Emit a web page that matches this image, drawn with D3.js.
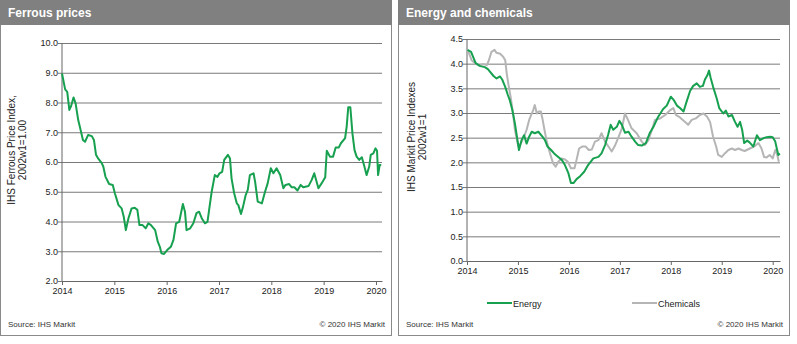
<!DOCTYPE html>
<html lang="en">
<head>
<meta charset="UTF-8">
<title>Ferrous prices / Energy and chemicals</title>
<script src="https://d3js.org/d3.v7.min.js"></script>
<style>
    body { margin: 0; background: #fff; }
    svg text { font-family: "Liberation Sans", Arial, sans-serif; }
    .grid line { stroke: #7a7a7a; stroke-width: 1; }
    .tick text { font-size: 9px; fill: #222; }
</style>
</head>
<body>
<svg id="chart"></svg>
<script>
    // Ferrous price index (decimal years)
    const ferrousYears = [
        2014.00, 2014.06, 2014.10, 2014.14, 2014.17, 2014.22, 2014.26, 2014.31, 2014.34, 2014.40, 2014.44,
        2014.50, 2014.57, 2014.61, 2014.65, 2014.69, 2014.76, 2014.79, 2014.83, 2014.90, 2014.97,
        2015.01, 2015.08, 2015.14, 2015.18, 2015.22, 2015.27, 2015.33, 2015.39, 2015.44, 2015.48,
        2015.54, 2015.60, 2015.65, 2015.70, 2015.78, 2015.83, 2015.87, 2015.90, 2015.95,
        2016.01, 2016.08, 2016.13, 2016.18, 2016.24, 2016.31, 2016.35, 2016.38, 2016.45, 2016.51,
        2016.57, 2016.62, 2016.67, 2016.73, 2016.78, 2016.82, 2016.86, 2016.92, 2016.97,
        2017.01, 2017.06, 2017.10, 2017.17, 2017.21, 2017.24, 2017.29, 2017.34, 2017.37, 2017.42, 2017.46,
        2017.51, 2017.55, 2017.59, 2017.66, 2017.69, 2017.74, 2017.82, 2017.88, 2017.93, 2017.99,
        2018.04, 2018.10, 2018.17, 2018.23, 2018.27, 2018.34, 2018.39, 2018.44, 2018.50, 2018.56,
        2018.61, 2018.71, 2018.77, 2018.82, 2018.90, 2018.96,
        2019.03, 2019.06, 2019.12, 2019.18, 2019.23, 2019.29, 2019.33, 2019.41, 2019.44, 2019.47, 2019.51,
        2019.55, 2019.59, 2019.63, 2019.68, 2019.73, 2019.78, 2019.82, 2019.87, 2019.90, 2019.95, 2019.99,
        2020.02, 2020.04, 2020.07, 2020.10
    ];
    const ferrousValues = [
        8.98, 8.44, 8.36, 7.75, 7.86, 8.17, 7.97, 7.41, 7.19, 6.74, 6.68,
        6.91, 6.87, 6.74, 6.24, 6.12, 5.96, 5.84, 5.51, 5.26, 5.23,
        4.95, 4.55, 4.44, 4.16, 3.71, 4.11, 4.44, 4.46, 4.39, 3.88,
        3.88, 3.77, 3.94, 3.88, 3.71, 3.32, 3.15, 2.93, 2.91,
        3.04, 3.15, 3.38, 3.94, 3.99, 4.59, 4.33, 3.71, 3.77, 3.94,
        4.28, 4.33, 4.11, 3.94, 3.99, 4.50, 5.00, 5.56, 5.50,
        5.62, 5.67, 6.07, 6.24, 6.12, 5.45, 4.95, 4.61, 4.55, 4.25, 4.50,
        4.89, 5.06, 5.56, 5.62, 5.34, 4.67, 4.61, 5.00, 5.28, 5.79,
        5.62, 5.79, 5.56, 5.12, 5.23, 5.26, 5.15, 5.15, 5.04, 5.23,
        5.15, 5.19, 5.39, 5.62, 5.12, 5.28,
        5.49, 6.38, 6.18, 6.18, 6.49, 6.49, 6.63, 6.80, 7.19, 7.84, 7.84,
        6.96, 6.40, 6.18, 6.07, 6.16, 5.84, 5.56, 5.84, 6.24, 6.29, 6.46,
        6.38, 5.56, 5.90, 5.90
    ];
    const ferrousTicks = [2, 3, 4, 5, 6, 7, 8, 9, 10];

    // Energy price index
    const energyYears = [
        2014.01, 2014.08, 2014.12, 2014.17, 2014.26, 2014.35, 2014.41, 2014.45, 2014.52, 2014.58,
        2014.65, 2014.69, 2014.75, 2014.80, 2014.84, 2014.89, 2014.94, 2014.98,
        2015.02, 2015.07, 2015.12, 2015.17, 2015.22, 2015.27, 2015.33, 2015.40, 2015.48, 2015.53,
        2015.58, 2015.65, 2015.71, 2015.79, 2015.86, 2015.92, 2015.99,
        2016.04, 2016.09, 2016.15, 2016.22, 2016.30, 2016.38, 2016.48, 2016.58, 2016.64, 2016.71,
        2016.77, 2016.82, 2016.87, 2016.94, 2016.99,
        2017.04, 2017.10, 2017.17, 2017.23, 2017.30, 2017.36, 2017.43, 2017.51, 2017.59, 2017.66,
        2017.75, 2017.85, 2017.92,
        2018.00, 2018.06, 2018.12, 2018.18, 2018.25, 2018.31, 2018.38, 2018.44, 2018.51, 2018.57,
        2018.63, 2018.67, 2018.72, 2018.75, 2018.78, 2018.83, 2018.90, 2018.95,
        2019.03, 2019.08, 2019.13, 2019.20, 2019.26, 2019.31, 2019.36, 2019.40, 2019.44, 2019.50,
        2019.55, 2019.62, 2019.69, 2019.75, 2019.82, 2019.88, 2019.95,
        2020.00, 2020.05, 2020.08, 2020.11, 2020.14
    ];
    const energyValues = [
        4.28, 4.24, 4.14, 4.01, 3.95, 3.93, 3.89, 3.84, 3.75, 3.70,
        3.74, 3.68, 3.53, 3.37, 3.26, 3.06, 2.79, 2.52,
        2.25, 2.45, 2.55, 2.38, 2.52, 2.62, 2.59, 2.62, 2.52, 2.45,
        2.32, 2.25, 2.18, 2.11, 2.05, 1.95, 1.78,
        1.58, 1.58, 1.66, 1.72, 1.81, 1.95, 2.08, 2.11, 2.18, 2.35,
        2.56, 2.76, 2.66, 2.72, 2.84,
        2.76, 2.60, 2.62, 2.52, 2.42, 2.35, 2.34, 2.39, 2.60, 2.72,
        2.92, 3.08, 3.15,
        3.33, 3.26, 3.15, 3.10, 3.03, 3.23, 3.45, 3.55, 3.60, 3.53,
        3.55, 3.68, 3.77, 3.86, 3.72, 3.53, 3.30, 3.10,
        2.99, 3.05, 2.93, 2.96, 2.82, 2.72, 2.82, 2.66, 2.39, 2.44,
        2.40, 2.32, 2.55, 2.45, 2.49, 2.51, 2.52,
        2.51, 2.42, 2.28, 2.15, 2.18
    ];

    // Chemicals price index
    const chemYears = [
        2014.00, 2014.04, 2014.09, 2014.16, 2014.22, 2014.32, 2014.39, 2014.43, 2014.48, 2014.54,
        2014.58, 2014.65, 2014.71, 2014.75, 2014.78, 2014.81, 2014.86, 2014.91, 2014.94, 2014.98,
        2015.01, 2015.06, 2015.12, 2015.17, 2015.22, 2015.26, 2015.30, 2015.33, 2015.37, 2015.41,
        2015.45, 2015.48, 2015.52, 2015.56, 2015.61, 2015.65, 2015.69, 2015.74, 2015.79, 2015.86,
        2015.92, 2015.98,
        2016.04, 2016.11, 2016.15, 2016.20, 2016.26, 2016.33, 2016.39, 2016.45, 2016.51, 2016.58,
        2016.64, 2016.71, 2016.79, 2016.84, 2016.90, 2016.97,
        2017.04, 2017.10, 2017.16, 2017.23, 2017.33, 2017.43, 2017.49, 2017.56, 2017.63, 2017.69,
        2017.79, 2017.89, 2017.99,
        2018.05, 2018.10, 2018.18, 2018.28, 2018.34, 2018.41, 2018.49, 2018.57, 2018.64, 2018.71,
        2018.77, 2018.83, 2018.89, 2018.93,
        2019.00, 2019.06, 2019.13, 2019.20, 2019.26, 2019.33, 2019.39, 2019.45, 2019.55, 2019.65,
        2019.72, 2019.78, 2019.83, 2019.88, 2019.94,
        2020.00, 2020.05, 2020.09, 2020.12
    ];
    const chemValues = [
        4.28, 4.21, 4.07, 4.01, 3.97, 3.99, 3.97, 4.07, 4.24, 4.28,
        4.22, 4.20, 4.14, 4.07, 3.80, 3.60, 3.30, 2.93, 2.66, 2.45,
        2.32, 2.39, 2.52, 2.66, 2.86, 2.96, 3.06, 3.16, 2.99, 3.03,
        3.03, 2.89, 2.66, 2.45, 2.25, 2.11, 1.98, 1.91, 2.01, 2.08,
        2.06, 2.01,
        1.88, 1.88, 2.05, 2.28, 2.32, 2.32, 2.25, 2.26, 2.42, 2.45,
        2.59, 2.42, 2.30, 2.22, 2.33, 2.50,
        2.69, 2.99, 2.86, 2.69, 2.59, 2.42, 2.35, 2.45, 2.66, 2.86,
        2.89, 2.96, 3.06,
        3.10, 2.96, 2.91, 2.82, 2.76, 2.86, 2.89, 2.96, 2.99, 2.93,
        2.82, 2.52, 2.32, 2.15,
        2.11, 2.18, 2.25, 2.28, 2.25, 2.28, 2.25, 2.23, 2.28, 2.33,
        2.39, 2.28, 2.11, 2.10, 2.15,
        2.08, 2.25, 2.15, 2.01
    ];
    const energyTicks = [0, 0.5, 1, 1.5, 2, 2.5, 3, 3.5, 4, 4.5];
    const yearTicks = [2014, 2015, 2016, 2017, 2018, 2019, 2020];

    const green = "#17a04f";
    const grey = "#b5b5b5";

    const svg = d3.select("#chart")
        .attr("width", 797)
        .attr("height", 344);

    // panel frame with grey title bar
    function drawPanel(x0, w, title) {
        svg.append("rect")
            .attr("x", x0 + 0.5).attr("y", 0.5)
            .attr("width", w).attr("height", 335)
            .attr("fill", "#fff").attr("stroke", "#8a8a8a");
        svg.append("rect")
            .attr("x", x0).attr("y", 0)
            .attr("width", w + 1).attr("height", 25)
            .attr("fill", "#808080");
        svg.append("text")
            .attr("x", x0 + 8).attr("y", 17)
            .attr("fill", "#fff")
            .style("font-size", "12px").style("font-weight", "bold")
            .text(title);
        svg.append("text")
            .attr("x", x0 + 8).attr("y", 327)
            .attr("fill", "#333").style("font-size", "8px")
            .text("Source: IHS Markit");
        svg.append("text")
            .attr("x", x0 + w - 6).attr("y", 327)
            .attr("text-anchor", "end")
            .attr("fill", "#333").style("font-size", "8px")
            .text("\u00a9 2020 IHS Markit");
    }

    function drawAxes(x, y, yTicks, yFmt, titleLines, titleX, titleY) {
        const [left, right] = x.range();
        const bottom = y.range()[0];

        svg.append("g")
            .attr("class", "grid")
            .attr("transform", "translate(" + left + ",0)")
            .call(d3.axisLeft(y).tickValues(yTicks).tickFormat(yFmt)
                .tickSize(-(right - left)).tickSizeOuter(0).tickPadding(4))
            .call(g => g.select(".domain").remove())
            .call(g => g.selectAll(".tick line").attr("x1", -4));

        svg.append("line")
            .attr("x1", left).attr("x2", left)
            .attr("y1", y.range()[1]).attr("y2", bottom)
            .attr("stroke", "#666");

        svg.append("g")
            .attr("transform", "translate(0," + bottom + ")")
            .call(d3.axisBottom(x).tickValues(yearTicks).tickFormat(d3.format("d"))
                .tickSize(4).tickSizeOuter(0).tickPadding(3))
            .call(g => g.select(".domain").attr("stroke", "#666"))
            .call(g => g.selectAll(".tick line").attr("stroke", "#666"));

        const t = svg.append("text")
            .attr("transform", "translate(" + titleX + "," + titleY + ") rotate(-90)")
            .attr("text-anchor", "middle")
            .attr("fill", "#222")
            .style("font-size", "10px");
        titleLines.forEach((s, i) => {
            t.append("tspan").attr("x", 0).attr("dy", i === 0 ? 0 : "1.05em").text(s);
        });
    }

    function drawLine(x, y, xs, ys, color, width) {
        const pts = xs.map((d, i) => [d, ys[i]]);
        svg.append("path")
            .datum(pts)
            .attr("fill", "none")
            .attr("stroke", color)
            .attr("stroke-width", width)
            .attr("stroke-linejoin", "round")
            .attr("d", d3.line().x(d => x(d[0])).y(d => y(d[1])));
    }

    // Left: Ferrous prices
    drawPanel(0, 391, "Ferrous prices");
    const x1 = d3.scaleLinear().domain([2014, 2020.115]).range([62, 382]);
    const y1 = d3.scaleLinear().domain([2, 10]).range([281, 43]);
    drawAxes(x1, y1, ferrousTicks, d3.format(".1f"),
        ["IHS Ferrous Price Index,", "2002w1=1.00"], 15, 150);
    drawLine(x1, y1, ferrousYears, ferrousValues, green, 2);

    // Right: Energy and chemicals
    drawPanel(398, 391, "Energy and chemicals");
    const x2 = d3.scaleLinear().domain([2014, 2020.143]).range([467, 780]);
    const y2 = d3.scaleLinear().domain([0, 4.5]).range([261, 39]);
    drawAxes(x2, y2, energyTicks, d3.format(".1f"),
        ["IHS Markit Price Indexes", "2002w1=1"], 415, 137);
    drawLine(x2, y2, chemYears, chemValues, grey, 2);
    drawLine(x2, y2, energyYears, energyValues, green, 2);

    // legend
    const legendItems = [
        { name: "Energy", color: green, x: 487 },
        { name: "Chemicals", color: grey, x: 632 }
    ];
    const lg = svg.selectAll(".legend")
        .data(legendItems)
        .enter().append("g")
        .attr("class", "legend")
        .attr("transform", d => "translate(" + d.x + ",303)");
    lg.append("line")
        .attr("x1", 0).attr("x2", 25)
        .attr("stroke", d => d.color).attr("stroke-width", 2);
    lg.append("text")
        .attr("x", 26).attr("y", 3.5)
        .attr("fill", "#222").style("font-size", "9px")
        .text(d => d.name);
</script>
</body>
</html>
